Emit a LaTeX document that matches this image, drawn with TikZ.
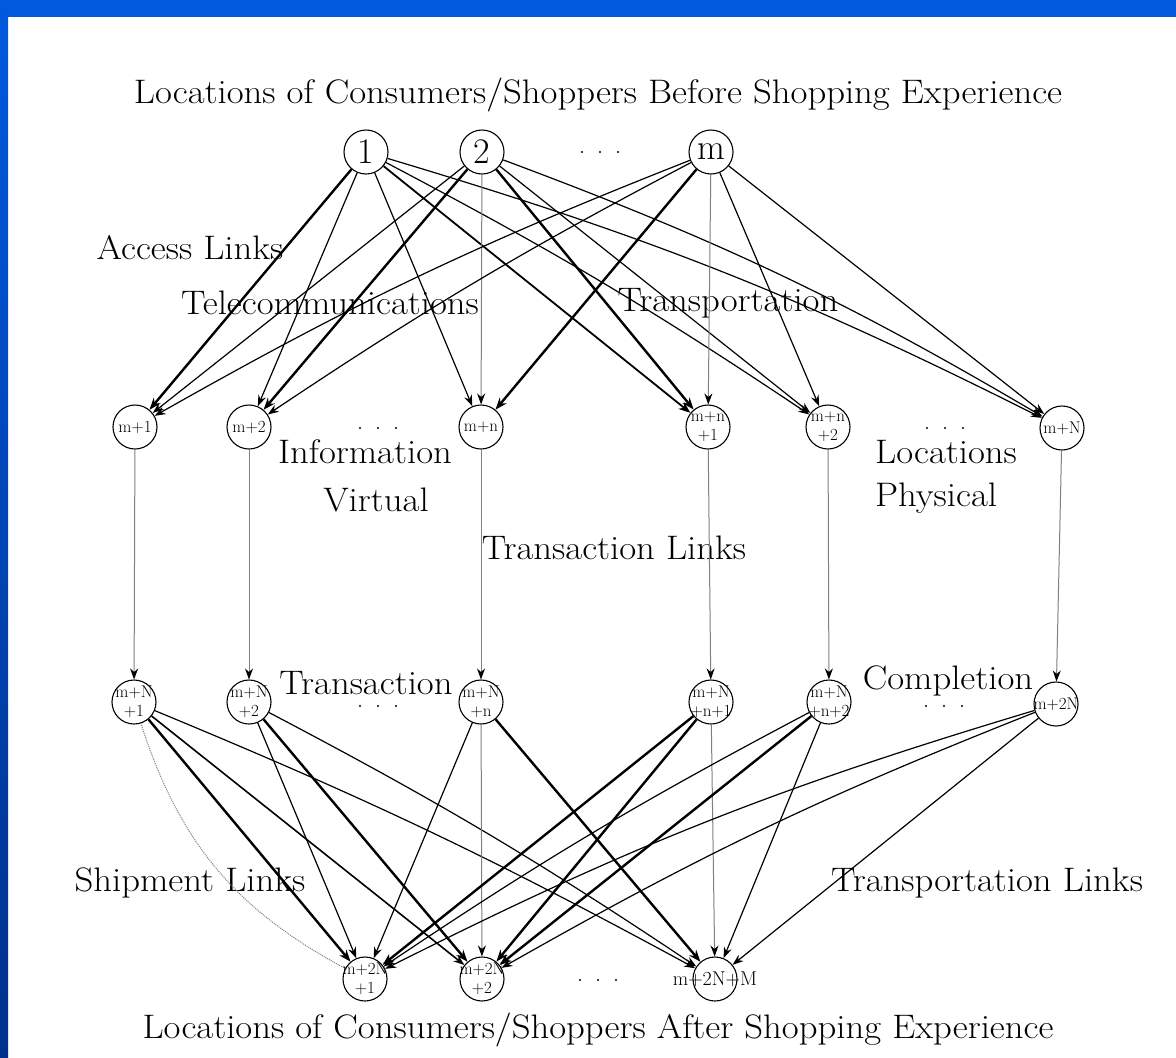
\documentclass[tikz,border=0pt]{standalone}
\usetikzlibrary{arrows.meta}
\definecolor{frameblue}{RGB}{0,90,222}
\definecolor{framedark}{RGB}{0,48,140}
\newcommand{\wide}[1]{\scalebox{1.08}[1]{#1}}
\begin{document}
\begin{tikzpicture}[x=1pt,y=-1pt,
  nd/.style={circle,draw,line width=1.1pt,minimum size=44pt,inner sep=0pt},
  big/.style={font=\fontsize{36}{40}\selectfont},
  sml/.style={font=\fontsize{17}{19}\selectfont,align=center,inner sep=0pt},
  lab/.style={font=\fontsize{34}{40}\selectfont,inner sep=0pt},
  dot/.style={circle,fill=black,inner sep=0pt,minimum size=2.2pt},
  arr/.style={-{Stealth[length=11pt,width=8pt]},line width=1.2pt},
  thk/.style={-{Stealth[length=12pt,width=9pt]},line width=2.4pt},
  gry/.style={-{Stealth[length=11pt,width=8pt,color=black]},draw=gray,line width=1pt}
]
\useasboundingbox (0,0) rectangle (1176,1058);
\fill[white] (0,0) rectangle (1176,1058);
\fill[frameblue] (0,0) rectangle (1176,17);
\shade[top color=frameblue,bottom color=framedark] (0,0) rectangle (8,1058);

% titles
\node[lab] (ttop) at (598,95) {\wide{Locations of Consumers/Shoppers Before Shopping Experience}};
\node[lab] (tbot) at (598,1030) {\wide{Locations of Consumers/Shoppers After Shopping Experience}};

% top row
\node[nd,label={[big]center:1}] (a1) at (366,152) {};
\node[nd,label={[big]center:2}] (a2) at (482,152) {};
\node[nd,label={[big]center:m}] (am) at (711,152) {};
\foreach \x [count=\i] in {582,600,618} \node[dot] (p0\i) at (\x,152) {};

% row 2
\node[nd,label={[sml]center:m+1}] (b1) at (135,427) {};
\node[nd,label={[sml]center:m+2}] (b2) at (249,427) {};
\node[nd,label={[sml]center:m+n}] (bn) at (481,427) {};
\node[nd,label={[sml]center:m+n\\+1}] (bn1) at (708,427) {};
\node[nd,label={[sml]center:m+n\\+2}] (bn2) at (828,427) {};
\node[nd,label={[sml]center:m+N}] (bN) at (1062,428) {};
\foreach \x [count=\i] in {360,378,396} \node[dot] (p1\i) at (\x,428) {};
\foreach \x [count=\i] in {927,945,963} \node[dot] (p2\i) at (\x,428) {};

% row 3
\node[nd,label={[sml]center:m+N\\+1}] (c1) at (134,702) {};
\node[nd,label={[sml]center:m+N\\+2}] (c2) at (249,702) {};
\node[nd,label={[sml]center:m+N\\+n}] (cn) at (481,702) {};
\node[nd,label={[sml]center:m+N\\+n+1}] (cn1) at (711,702) {};
\node[nd,label={[sml]center:m+N\\+n+2}] (cn2) at (829,702) {};
\node[nd,label={[sml]center:m+2N}] (cN) at (1056,704) {};
\foreach \x [count=\i] in {360,378,396} \node[dot] (p3\i) at (\x,706) {};
\foreach \x [count=\i] in {926,944,962} \node[dot] (p4\i) at (\x,706) {};

% row 4
\node[nd,label={[sml]center:m+2N\\+1}] (d1) at (365,979) {};
\node[nd,label={[sml]center:m+2N\\+2}] (d2) at (482,979) {};
\node[nd,label={[sml,font=\fontsize{20}{22}\selectfont]center:m+2N+M}] (dM) at (715,979) {};
\foreach \x [count=\i] in {580,598,616} \node[dot] (p5\i) at (\x,980) {};

% labels
\node[lab] (l1) at (190,248) {\wide{Access Links}};
\node[lab] (l2) at (330,303) {\wide{Telecommunications}};
\node[lab] (l3) at (728,303) {\wide{Transportation}};
\node[lab] (l4) at (365,452) {\wide{Information}};
\node[lab] (l5) at (376,500) {\wide{Virtual}};
\node[lab] (l6) at (614,548) {\wide{Transaction Links}};
\node[lab] (l7) at (946,452) {\wide{Locations}};
\node[lab] (l8) at (936,498) {\wide{Physical}};
\node[lab] (l9) at (366,683) {\wide{Transaction}};
\node[lab] (l10) at (948,681) {\wide{Completion}};
\node[lab] (l11) at (190,883) {\wide{Shipment Links}};
\node[lab] (l12) at (987,883) {\wide{Transportation Links}};

% top -> row 2
\draw[thk] (a1) -- (b1);
\draw[arr] (a1) -- (b2);
\draw[arr] (a1) -- (bn);
\draw[thk,line width=1.8pt] (a1) -- (bn1);
\draw[arr] (a1) to[bend left=3] (bn2);
\draw[arr] (a1) to[bend left=5] (bN);
\draw[arr] (a2) -- (b1);
\draw[thk] (a2) -- (b2);
\draw[gry] (a2) -- (bn);
\draw[thk] (a2) -- (bn1);
\draw[arr] (a2) -- (bn2);
\draw[arr] (a2) to[bend left=5] (bN);
\draw[arr] (am) to[bend right=4] (b1);
\draw[arr] (am) to[bend right=3] (b2);
\draw[thk] (am) -- (bn);
\draw[gry] (am) -- (bn1);
\draw[arr] (am) -- (bn2);
\draw[arr] (am) -- (bN);

% row 2 -> row 3
\draw[gry] (b1) -- (c1);
\draw[gry] (b2) -- (c2);
\draw[gry] (bn) -- (cn);
\draw[gry] (bn1) -- (cn1);
\draw[gry] (bn2) -- (cn2);
\draw[gry] (bN) -- (cN);

% row 3 -> row 4
\draw[thk] (c1) -- (d1);
\draw[arr,line width=1.6pt] (c1) -- (d2);
\draw[arr] (c1) to[bend left=3] (dM);
\draw[arr] (c2) -- (d1);
\draw[thk] (c2) -- (d2);
\draw[arr] (c2) to[bend left=3] (dM);
\draw[arr] (cn) -- (d1);
\draw[gry] (cn) -- (d2);
\draw[thk] (cn) -- (dM);
\draw[thk] (cn1) -- (d1);
\draw[thk] (cn1) -- (d2);
\draw[gry] (cn1) -- (dM);
\draw[arr] (cn2) to[bend right=3] (d1);
\draw[thk] (cn2) -- (d2);
\draw[arr] (cn2) -- (dM);
\draw[arr] (cN) to[bend right=5] (d1);
\draw[arr] (cN) to[bend right=4] (d2);
\draw[arr] (cN) -- (dM);
\draw[gray,densely dotted,line width=1pt] (c1) to[bend right=22] (d1);
\end{tikzpicture}
\end{document}
